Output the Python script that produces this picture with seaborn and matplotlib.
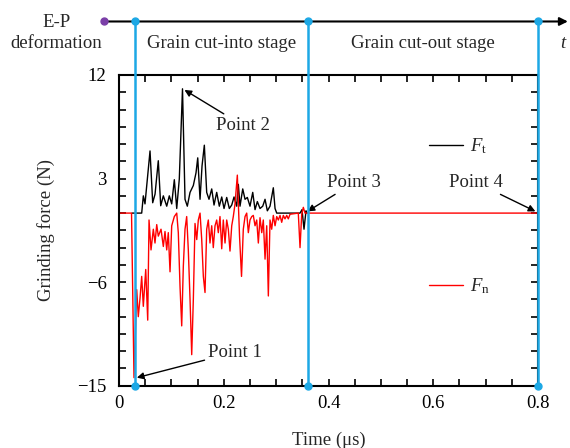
import matplotlib
matplotlib.use("Agg")
import matplotlib.pyplot as plt
import seaborn as sns
import numpy as np
import pandas as pd
from matplotlib.ticker import MultipleLocator
from matplotlib.lines import Line2D

# ---------------- data ----------------
t_ft = [0.0248, 0.0433, 0.0464, 0.0496, 0.0592, 0.0643, 0.0688, 0.0750, 0.0796,
        0.0846, 0.0911, 0.0960, 0.1006, 0.1056, 0.1102, 0.1151, 0.1212, 0.1260, 0.1304,
        0.1356, 0.1419, 0.1470, 0.1503, 0.1547, 0.1585, 0.1629, 0.1674, 0.1718, 0.1770,
        0.1814, 0.1865, 0.1915, 0.1961, 0.2005, 0.2056, 0.2106, 0.2152, 0.2196, 0.2247,
        0.2278, 0.2310, 0.2362, 0.2406, 0.2450, 0.2501, 0.2553, 0.2597, 0.2641, 0.2692,
        0.2744, 0.2788, 0.2832, 0.2883, 0.2946, 0.2979, 0.3011, 0.3456, 0.3494, 0.3532,
        0.3570, 0.3589]
ft = [0.0, 0.0, 1.5, 0.8, 5.4, 0.9, 1.65, 4.55, 0.64,
      1.5, 0.6, 1.5, 0.8, 2.9, 0.4, 2.96, 10.8, 1.2, 0.6,
      1.8, 2.4, 3.5, 4.8, 1.2, 4.1, 5.9, 1.8, 1.2, 2.1,
      0.7, 1.8, 0.6, 1.4, 0.4, 1.36, 0.4, 0.7, 1.4, 0.6,
      2.5, 0.6, 2.1, 1.2, 1.36, 0.6, 1.8, 0.3, 1.0, 0.4,
      0.6, 1.2, 0.2, 0.6, 2.2, 0.4, 0.0, 0.0, 0.3, -1.4,
      0.2, 0.0]

t_fn = [0.0, 0.0239, 0.0286, 0.0338, 0.0368, 0.0401, 0.0433, 0.0464, 0.0510, 0.0548,
        0.0573, 0.0611, 0.0655, 0.0687, 0.0720, 0.0750, 0.0802, 0.0846, 0.0878, 0.0911,
        0.0941, 0.0974, 0.1006, 0.1056, 0.1102, 0.1132, 0.1165, 0.1197, 0.1228, 0.1260,
        0.1292, 0.1323, 0.1356, 0.1388, 0.1419, 0.1451, 0.1484, 0.1514, 0.1547, 0.1579,
        0.1610, 0.1642, 0.1674, 0.1705, 0.1737, 0.1770, 0.1800, 0.1833, 0.1865, 0.1896,
        0.1928, 0.1961, 0.1991, 0.2024, 0.2056, 0.2087, 0.2119, 0.2152, 0.2182, 0.2215,
        0.2259, 0.2301, 0.2339, 0.2373, 0.2406, 0.2438, 0.2469, 0.2501, 0.2534, 0.2564,
        0.2597, 0.2629, 0.2660, 0.2692, 0.2725, 0.2755, 0.2788, 0.2820, 0.2851, 0.2883,
        0.2915, 0.2946, 0.2979, 0.3011, 0.3042, 0.3074, 0.3106, 0.3137, 0.3169, 0.3202,
        0.3232, 0.3265, 0.3423, 0.3456, 0.3488, 0.3519, 0.3551, 0.8]
fn = [0.0, 0.0, -14.3, -6.65, -9.0, -7.4, -5.5, -8.1, -4.9, -9.3,
      -0.6, -3.2, -1.4, -2.6, -1.0, -2.0, -1.4, -2.9, -1.6, -3.2,
      -1.7, -5.1, -1.1, -0.3, 0.0, -1.7, -6.4, -9.8, -4.6, -1.4,
      -0.3, -3.2, -7.5, -12.3, -7.5, -0.9, -2.3, -0.6, 0.0, -2.3,
      -5.5, -6.9, -1.4, -0.6, -2.6, -1.1, -3.0, -1.1, -0.6, -1.7,
      -0.3, -3.1, -0.6, -2.6, -0.6, -1.4, -3.3, -1.1, -0.3, 0.8,
      3.3, -2.0, -5.5, -1.4, -0.3, 0.0, -1.7, -0.6, -0.3, -0.2,
      -1.1, -0.6, -2.6, -0.4, -1.7, -0.6, -4.0, -1.1, -7.2, -0.6,
      -1.4, -0.2, -1.1, -0.3, -0.6, -0.2, -0.8, -0.2, -0.5, -0.2,
      -0.5, -0.1, 0.0, -3.0, -0.1, 0.5, 0.0, 0.0]

stage_times = [0.03, 0.36, 0.8]
stage_labels = ["Grain cut-into stage", "Grain cut-out stage"]
xticks = [0, 0.2, 0.4, 0.6, 0.8]
xticklabels = ["0", "0.2", "0.4", "0.6", "0.8"]
yticks = [-15, -6, 3, 12]
yticklabels = ["\u221215", "\u22126", "3", "12"]
points = ["Point 1", "Point 2", "Point 3", "Point 4"]

# ---------------- style ----------------
sns.set_theme(style="ticks")
plt.rcParams['font.family'] = ['Liberation Serif', 'DejaVu Serif']
plt.rcParams['mathtext.fontset'] = 'custom'
plt.rcParams['mathtext.rm'] = 'Liberation Serif'
plt.rcParams['mathtext.it'] = 'Liberation Serif:italic'

FS = 13.5
BLUE = '#1DA8E5'

fig = plt.figure(figsize=(5.7, 4.48), dpi=100)
ax = fig.add_axes([0.2088, 0.139, 0.9439 - 0.2088, 0.8326 - 0.139])

df_t = pd.DataFrame({"t": t_ft, "F": ft})
df_n = pd.DataFrame({"t": t_fn, "F": fn})
sns.lineplot(data=df_t, x="t", y="F", color="black", lw=1.0, ax=ax, estimator=None, sort=False)
sns.lineplot(data=df_n, x="t", y="F", color="#FF0000", lw=1.0, ax=ax, estimator=None, sort=False)

ax.set_xlim(0, 0.8)
ax.set_ylim(-15, 12)
ax.set_xticks(xticks)
ax.set_xticklabels(xticklabels)
ax.set_yticks(yticks)
ax.set_yticklabels(yticklabels)
ax.xaxis.set_minor_locator(MultipleLocator(0.05))
ax.yaxis.set_minor_locator(MultipleLocator(1.5))
ax.tick_params(which='both', direction='in', top=True, right=True, labelsize=FS, width=1.2, colors='black')
ax.tick_params(which='major', length=5)
ax.tick_params(which='minor', length=5)
ax.tick_params(axis='y', which='major', pad=9)
ax.tick_params(axis='x', which='major', pad=7)
for s in ax.spines.values():
    s.set_linewidth(1.5)
    s.set_color('black')
ax.set_xlabel("Time (\u03bcs)", fontsize=FS, labelpad=14)
ax.set_ylabel("Grinding force (N)", fontsize=FS, labelpad=16)

# timeline at top
ytl = 16.65
ax.annotate("", xy=(0.857, ytl), xytext=(-0.03, ytl), xycoords='data',
            arrowprops=dict(arrowstyle='-|>', color='black', lw=1.5, mutation_scale=12,
                            shrinkA=0, shrinkB=0), annotation_clip=False)
ax.plot([-0.0286], [ytl], 'o', color='#7B3FA8', ms=5, clip_on=False, zorder=6)
for st in stage_times:
    ax.plot([st, st], [-15, ytl], color=BLUE, lw=1.8, clip_on=False, zorder=4)
    ax.plot([st, st], [-15, ytl], 'o', color=BLUE, ms=5, clip_on=False, zorder=5)

ax.text((stage_times[0] + stage_times[1]) / 2, 14.7, stage_labels[0], ha='center', va='center', fontsize=FS)
ax.text((stage_times[1] + stage_times[2]) / 2, 14.7, stage_labels[1], ha='center', va='center', fontsize=FS)
ax.text(0.848, 14.7, "t", ha='center', va='center', fontsize=FS, style='italic')
ax.text(-0.12, 16.6, "E-P", ha='center', va='center', fontsize=FS)
ax.text(-0.12, 14.7, "deformation", ha='center', va='center', fontsize=FS)

# annotations
ap = dict(arrowstyle='-|>', color='black', lw=1.0, mutation_scale=10, shrinkA=0, shrinkB=0)
ax.annotate(points[0], xy=(0.034, -14.3), xytext=(0.221, -12.1), fontsize=FS, ha='center', va='center',
            arrowprops=ap)
ax.annotate(points[1], xy=(0.125, 10.7), xytext=(0.237, 7.6), fontsize=FS, ha='center', va='center',
            arrowprops=ap)
ax.annotate(points[2], xy=(0.36, 0.15), xytext=(0.449, 2.65), fontsize=FS, ha='center', va='center',
            arrowprops=ap)
ax.annotate(points[3], xy=(0.795, 0.15), xytext=(0.682, 2.65), fontsize=FS, ha='center', va='center',
            arrowprops=ap)

# legends
h_t = [Line2D([], [], color='black', lw=1.0)]
h_n = [Line2D([], [], color='#FF0000', lw=1.0)]
leg1 = ax.legend(h_t, [r"$F_{\mathrm{t}}$"], loc='center left', bbox_to_anchor=(0.7, 0.77),
                 frameon=False, fontsize=FS, handlelength=1.8, handletextpad=0.4)
ax.add_artist(leg1)
ax.legend(h_n, [r"$F_{\mathrm{n}}$"], loc='center left', bbox_to_anchor=(0.7, 0.32),
          frameon=False, fontsize=FS, handlelength=1.8, handletextpad=0.4)

fig.savefig("out.png", dpi=100)
